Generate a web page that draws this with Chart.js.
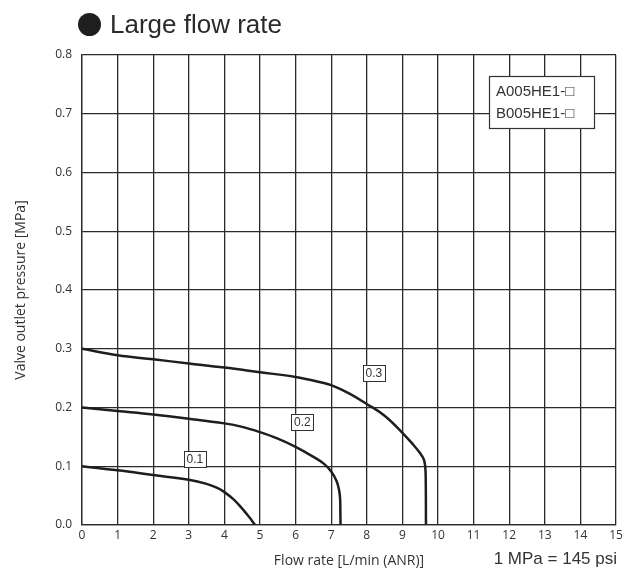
<!DOCTYPE html>
<html>
<head>
<meta charset="utf-8">
<script src="https://cdn.jsdelivr.net/npm/chart.js@4"></script>
<style>
  body { margin: 0; background: #fff; }
  #wrap { width: 633px; height: 569px; position: relative; }
</style>
</head>
<body>
<div id="wrap"><canvas id="flowChart"></canvas></div>
<script>
// pressure curves, set pressure 0.1 / 0.2 / 0.3 MPa
const curve01 = [
    {x: 0, y: 0.100}, {x: 1, y: 0.093}, {x: 2, y: 0.085}, {x: 3, y: 0.077},
    {x: 3.5, y: 0.070}, {x: 3.8, y: 0.063}, {x: 4, y: 0.056}, {x: 4.25, y: 0.044},
    {x: 4.47, y: 0.030}, {x: 4.65, y: 0.017}, {x: 4.78, y: 0.007}, {x: 4.86, y: 0}
];
const curve02 = [
    {x: 0, y: 0.200}, {x: 1, y: 0.194}, {x: 2, y: 0.188}, {x: 3, y: 0.181},
    {x: 4, y: 0.173}, {x: 4.5, y: 0.167}, {x: 5, y: 0.158}, {x: 5.5, y: 0.147},
    {x: 6, y: 0.133}, {x: 6.5, y: 0.116}, {x: 6.8, y: 0.104}, {x: 7, y: 0.091},
    {x: 7.15, y: 0.075}, {x: 7.22, y: 0.060}, {x: 7.25, y: 0.045}, {x: 7.258, y: 0.020},
    {x: 7.262, y: 0}
];
const curve03 = [
    {x: 0, y: 0.300}, {x: 1, y: 0.289}, {x: 2, y: 0.282}, {x: 3, y: 0.275},
    {x: 4, y: 0.268}, {x: 5, y: 0.260}, {x: 6, y: 0.252}, {x: 6.7, y: 0.243},
    {x: 7, y: 0.238}, {x: 7.5, y: 0.224}, {x: 8, y: 0.206}, {x: 8.5, y: 0.186},
    {x: 9, y: 0.157}, {x: 9.3, y: 0.137}, {x: 9.5, y: 0.122}, {x: 9.6, y: 0.112},
    {x: 9.64, y: 0.100}, {x: 9.655, y: 0.080}, {x: 9.662, y: 0}
];
const curveNames = ['0.1', '0.2', '0.3'];
const labelX = [3.17, 6.19, 8.2];
const labelY = [0.112, 0.1755, 0.258];
const legendLines = ['A005HE1-\u25A1', 'B005HE1-\u25A1'];

const INK = '#1e1e1e';
const GRID = '#2a2a2a';

const extras = {
    id: 'extras',
    afterDatasetsDraw(chart) {
        const c = chart.ctx;
        const area = chart.chartArea;
        const xs = chart.scales.x, ys = chart.scales.y;
        c.save();

        // curve labels in small boxes
        c.font = '12px "Liberation Sans", Arial, sans-serif';
        c.textAlign = 'center';
        c.textBaseline = 'middle';
        curveNames.forEach((t, i) => {
            const px = xs.getPixelForValue(labelX[i]);
            const py = ys.getPixelForValue(labelY[i]);
            c.fillStyle = '#fff';
            c.fillRect(px - 11, py - 8, 22, 16);
            c.strokeStyle = '#333';
            c.lineWidth = 1;
            c.strokeRect(Math.round(px - 11) + 0.5, Math.round(py - 8) + 0.5, 22, 16);
            c.fillStyle = '#333';
            c.fillText(t, px, py + 0.5);
        });

        // legend box top right
        const bx = area.right - 127, by = area.top + 21, bw = 105, bh = 52;
        c.fillStyle = '#fff';
        c.fillRect(bx, by, bw, bh);
        c.strokeStyle = '#333';
        c.lineWidth = 1.2;
        c.strokeRect(bx + 0.5, by + 0.5, bw, bh);
        c.fillStyle = '#333';
        c.font = '15px "Liberation Sans", Arial, sans-serif';
        c.textAlign = 'left';
        legendLines.forEach((t, i) => c.fillText(t, bx + 7, by + 16 + i * 22));
        c.restore();
    },
    afterDraw(chart) {
        const c = chart.ctx;
        c.save();
        // heading with bullet
        c.fillStyle = INK;
        c.beginPath();
        c.arc(89.5, 24.5, 11.5, 0, Math.PI * 2);
        c.fill();
        c.font = '26px "Liberation Sans", Arial, sans-serif';
        c.textBaseline = 'alphabetic';
        c.textAlign = 'left';
        c.fillStyle = '#2a2a2a';
        c.fillText('Large flow rate', 110, 33);

        // unit note
        c.font = '17px "Liberation Sans", Arial, sans-serif';
        c.textAlign = 'right';
        c.fillStyle = '#333';
        c.fillText('1 MPa = 145 psi', 617, 564);
        c.restore();
    }
};

const ctx = document.getElementById('flowChart').getContext('2d');

const mkSet = (data) => ({
    data: data,
    showLine: true,
    borderColor: INK,
    borderWidth: 2.5,
    pointRadius: 0,
    tension: 0.4,
    fill: false
});

new Chart(ctx, {
    type: 'scatter',
    data: { datasets: [mkSet(curve01), mkSet(curve02), mkSet(curve03)] },
    options: {
        responsive: true,
        maintainAspectRatio: false,
        animation: false,
        layout: { padding: { top: 55, right: 17, left: 0, bottom: 0 } },
        plugins: { legend: { display: false }, tooltip: { enabled: false } },
        scales: {
            x: {
                type: 'linear',
                min: 0, max: 15,
                grid: { color: GRID, lineWidth: 1.3, drawTicks: false },
                border: { color: GRID, width: 1.3 },
                ticks: {
                    stepSize: 1, padding: 3, color: '#333',
                    font: { family: '"Open Sans", sans-serif', size: 12 }
                },
                title: {
                    display: true,
                    text: 'Flow rate [L/min (ANR)]',
                    color: '#333',
                    padding: { top: 3, bottom: 0 },
                    font: { family: '"Open Sans", sans-serif', size: 14 }
                },
                afterFit(scale) { scale.height = 44; }
            },
            y: {
                min: 0, max: 0.8,
                grid: { color: GRID, lineWidth: 1.3, drawTicks: false },
                border: { color: GRID, width: 1.3 },
                ticks: {
                    stepSize: 0.1, padding: 10, color: '#333',
                    font: { family: '"Open Sans", sans-serif', size: 12 },
                    callback: v => v.toFixed(1)
                },
                title: {
                    display: true,
                    text: 'Valve outlet pressure [MPa]',
                    color: '#333',
                    padding: { top: 13, bottom: 0 },
                    font: { family: '"Open Sans", sans-serif', size: 14 }
                },
                afterFit(scale) { scale.width = 82; }
            }
        }
    },
    plugins: [extras]
});
</script>
</body>
</html>
